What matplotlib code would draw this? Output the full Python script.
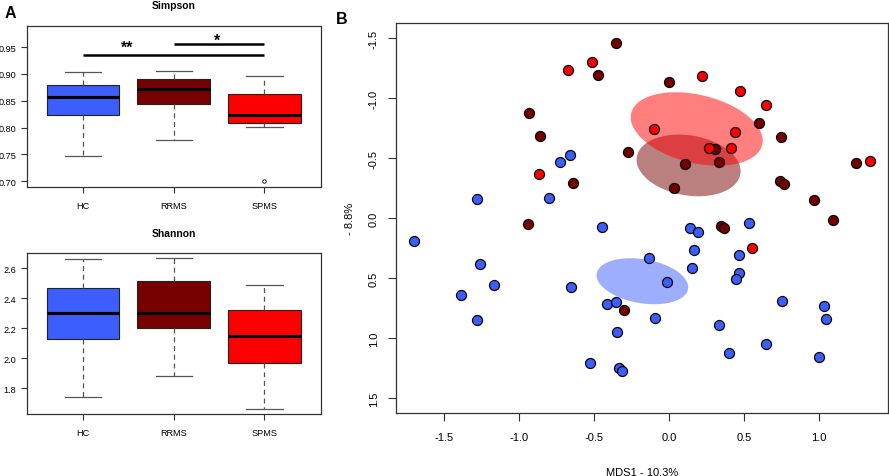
#!/usr/bin/env python3
# -*- coding: utf-8 -*-
"""
Alpha diversity boxplots (Simpson, Shannon) and an MDS ordination of the
three groups HC, RRMS and SPMS.
"""

import numpy
import matplotlib
matplotlib.use('Agg')
import matplotlib.pyplot as PyPlot

PyPlot.rcParams['font.family'] = ['Liberation Sans', 'DejaVu Sans']

groups = ['HC', 'RRMS', 'SPMS']
groupColors = ['#3B5EFC', '#760000', '#FF0000']

# Boxplot statistics: low whisker, Q1, median, Q3, high whisker
simpsonStats = {
    'HC':   [0.746, 0.824, 0.857, 0.880, 0.903],
    'RRMS': [0.776, 0.844, 0.872, 0.890, 0.906],
    'SPMS': [0.801, 0.808, 0.824, 0.862, 0.896],
}
simpsonOutliers = {'HC': [], 'RRMS': [], 'SPMS': [0.701]}
simpsonTicks = [0.70, 0.75, 0.80, 0.85, 0.90, 0.95]

shannonStats = {
    'HC':   [1.738, 2.129, 2.300, 2.467, 2.660],
    'RRMS': [1.882, 2.198, 2.300, 2.515, 2.665],
    'SPMS': [1.660, 1.967, 2.147, 2.318, 2.489],
}
shannonOutliers = {'HC': [], 'RRMS': [], 'SPMS': []}
shannonTicks = [1.8, 2.0, 2.2, 2.4, 2.6]

# Significance brackets: (from group, to group, line level, label, label x, label baseline)
simpsonSignif = [(1, 3, 0.936, '**', 1.49, 0.9415),
                 (2, 3, 0.956, '*', 2.48, 0.9540)]

# MDS coordinates per group
hcX = [-0.662, -0.727, -1.280, -0.804, -0.447, -1.700, 0.140, 0.191, 0.531,
       0.162, 0.462, -0.138, 0.149, 0.467, 0.442, -0.013, -0.418, -0.353,
       0.753, 1.033, 1.042, -0.095, 0.329, -0.351, 0.647, 0.398, 0.996,
       -0.335, -0.313, -1.264, -1.169, -1.389, -0.657, -1.282, -0.529]
hcY = [-0.529, -0.471, -0.163, -0.171, 0.068, 0.188, 0.076, 0.115, 0.040,
       0.260, 0.307, 0.329, 0.415, 0.454, 0.501, 0.529, 0.710, 0.693,
       0.690, 0.727, 0.840, 0.829, 0.888, 0.948, 1.048, 1.123, 1.151,
       1.243, 1.268, 0.379, 0.554, 0.640, 0.573, 0.843, 1.201]

rrmsX = [-0.477, -0.937, -0.864, -0.640, -0.940, -0.357, 0.000, 0.600, 0.743,
         0.305, -0.277, 0.107, 0.329, 0.031, 0.736, 0.765, 1.247, 0.965,
         1.089, 0.342, 0.365, -0.302]
rrmsY = [-1.193, -0.882, -0.688, -0.298, 0.043, -1.465, -1.137, -0.793, -0.682,
         -0.582, -0.551, -0.457, -0.468, -0.251, -0.315, -0.288, -0.465, -0.152,
         0.010, 0.060, 0.076, 0.760]

spmsX = [-0.677, -0.517, -0.867, 0.218, 0.471, 0.647, -0.102, 0.436, 0.409,
         0.267, 1.337, 0.553]
spmsY = [-1.237, -1.300, -0.373, -1.188, -1.060, -0.943, -0.746, -0.721, -0.590,
         -0.585, -0.476, 0.246]

# Group ellipses: centre and shape matrix [sxx, sxy, syy]
ellipseCentres = {'HC': (-0.179, 0.523), 'RRMS': (0.129, -0.442), 'SPMS': (0.183, -0.746)}
ellipseShapes = {
    'HC':   [0.0932, 0.0153, 0.0367],
    'RRMS': [0.1202, 0.0167, 0.0659],
    'SPMS': [0.1936, 0.0429, 0.0935],
}

mdsTicksX = [-1.5, -1.0, -0.5, 0.0, 0.5, 1.0]
mdsTicksY = [-1.5, -1.0, -0.5, 0.0, 0.5, 1.0, 1.5]


def styleFrame(axes):
    for spine in axes.spines.values():
        spine.set_linewidth(0.9)
        spine.set_color('#333333')


def boxPanel(axes, stats, outliers, ticks, ylim, title):
    boxes = []
    for name in groups:
        low, q1, med, q3, high = stats[name]
        boxes.append({'whislo': low, 'q1': q1, 'med': med, 'q3': q3,
                      'whishi': high, 'fliers': outliers[name], 'label': name})
    parts = axes.bxp(boxes, positions = [1, 2, 3], widths = 0.8,
                     capwidths = 0.4, patch_artist = True,
                     whiskerprops = dict(color = '#555555', linestyle = (0, (4, 3)),
                                         linewidth = 0.9),
                     capprops = dict(color = '#555555', linewidth = 0.9),
                     medianprops = dict(color = 'black', linewidth = 2.2),
                     boxprops = dict(edgecolor = '#222222', linewidth = 0.8),
                     flierprops = dict(marker = 'o', markersize = 2.5,
                                       markerfacecolor = 'white',
                                       markeredgecolor = 'black',
                                       markeredgewidth = 0.6))
    for patch, color in zip(parts['boxes'], groupColors):
        patch.set_facecolor(color)
    axes.set_xlim(0.38, 3.62)
    axes.set_ylim(ylim)
    axes.set_yticks(ticks)
    axes.set_yticklabels(['%.2f' % T if ticks[0] < 1 else '%.1f' % T for T in ticks])
    axes.tick_params(axis = 'both', labelsize = 6.6, length = 4, width = 0.8,
                     color = '#333333')
    axes.tick_params(axis = 'x', pad = 6)
    axes.tick_params(axis = 'y', pad = 3.5)
    axes.set_title(title, fontsize = 7.5, fontweight = 'bold', pad = 12.5)
    styleFrame(axes)


figure = PyPlot.figure(figsize = (8.89, 4.77), dpi = 100)

# Panel A - Simpson
axSimpson = figure.add_axes([0.030, 0.6059, 0.3307, 0.338])
boxPanel(axSimpson, simpsonStats, simpsonOutliers, simpsonTicks, (0.689, 0.990), 'Simpson')
for start, end, level, label, labelX, labelY in simpsonSignif:
    axSimpson.plot([start, end], [level, level], color = 'black', linewidth = 1.8,
                   solid_capstyle = 'butt')
    axSimpson.text(labelX, labelY, label, ha = 'center', va = 'baseline',
                   fontsize = 11.5, fontweight = 'bold')

# Panel A - Shannon
axShannon = figure.add_axes([0.030, 0.130, 0.3307, 0.3375])
boxPanel(axShannon, shannonStats, shannonOutliers, shannonTicks, (1.627, 2.700), 'Shannon')

# Panel B - MDS
axMds = figure.add_axes([0.4454, 0.1321, 0.5534, 0.8176])
theta = numpy.linspace(0, 2 * numpy.pi, 200)
for name, color in [('HC', groupColors[0]), ('RRMS', groupColors[1]), ('SPMS', groupColors[2])]:
    sxx, sxy, syy = ellipseShapes[name]
    L = numpy.linalg.cholesky(numpy.array([[sxx, sxy], [sxy, syy]]))
    pts = L @ numpy.vstack([numpy.cos(theta), numpy.sin(theta)])
    cx, cy = ellipseCentres[name]
    axMds.fill(cx + pts[0], cy + pts[1], color = color, alpha = 0.5,
               linewidth = 0, zorder = 1)

for X, Y, color in [(hcX, hcY, groupColors[0]), (rrmsX, rrmsY, groupColors[1]),
                    (spmsX, spmsY, groupColors[2])]:
    axMds.scatter(X, Y, s = 52, c = color, edgecolors = 'black', linewidths = 0.9,
                  zorder = 3)

axMds.set_xlim(-1.822, 1.458)
axMds.set_ylim(1.621, -1.629)
axMds.set_xticks(mdsTicksX)
axMds.set_xticklabels(['%.1f' % T for T in mdsTicksX])
axMds.set_yticks(mdsTicksY)
axMds.set_yticklabels(['%.1f' % T for T in mdsTicksY], rotation = 90, va = 'center')
axMds.tick_params(axis = 'both', labelsize = 8, length = 5.5, width = 0.8,
                  color = '#333333')
axMds.tick_params(axis = 'x', pad = 8)
axMds.tick_params(axis = 'y', pad = 7)
axMds.set_xlabel('MDS1 - 10.3%', fontsize = 8, labelpad = 18)
axMds.set_ylabel('- 8.8%', fontsize = 8, labelpad = 10)
styleFrame(axMds)

# Panel letters
figure.text(10 / 889, 1 - 13 / 477, 'A', fontsize = 11.5, fontweight = 'bold',
            ha = 'center', va = 'center')
figure.text(342 / 889, 1 - 19 / 477, 'B', fontsize = 11.5, fontweight = 'bold',
            ha = 'center', va = 'center')

figure.savefig('out.png', format = 'png', dpi = 100)
